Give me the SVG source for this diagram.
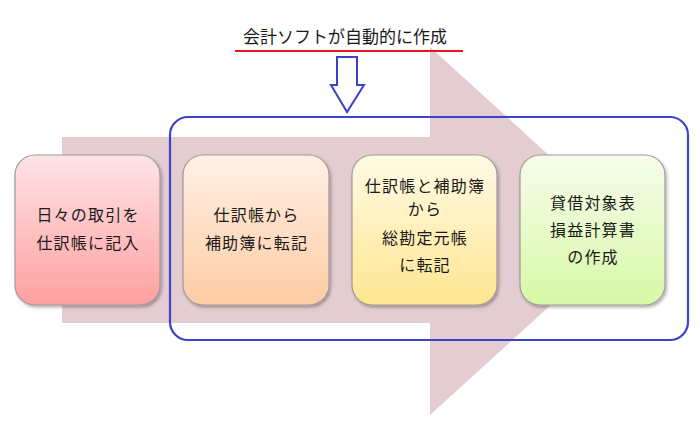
<svg xmlns="http://www.w3.org/2000/svg" width="700" height="425" viewBox="0 0 700 425">
<defs>
<style>
.t{font-family:"Noto Sans CJK JP","Noto Sans CJK SC",sans-serif;font-size:16px;fill:#1a1a1a;text-anchor:middle;letter-spacing:1.2px}
.n{stroke:#a09a9a;stroke-width:1.2}
</style>
<linearGradient id="g1" x1="0" y1="0" x2="0" y2="1"><stop offset="0" stop-color="#ffe3e6"/><stop offset="1" stop-color="#ffa0a0"/></linearGradient>
<linearGradient id="g2" x1="0" y1="0" x2="0" y2="1"><stop offset="0" stop-color="#fff0e6"/><stop offset="1" stop-color="#ffcca3"/></linearGradient>
<linearGradient id="g3" x1="0" y1="0" x2="0" y2="1"><stop offset="0" stop-color="#fffae6"/><stop offset="1" stop-color="#ffe68f"/></linearGradient>
<linearGradient id="g4" x1="0" y1="0" x2="0" y2="1"><stop offset="0" stop-color="#f6fdec"/><stop offset="1" stop-color="#d8f8a6"/></linearGradient>
<filter id="sh" x="-10%" y="-10%" width="125%" height="125%"><feDropShadow dx="1.5" dy="2" stdDeviation="1.5" flood-color="#000" flood-opacity="0.3"/></filter>
</defs>
<g id="bigArrow">
<polygon points="62,137 430,137 430,47 632,231 430,415 430,323 62,323" fill="#e4cdd0"/>
</g>
<g id="title">
<text class="t" x="345" y="43" style="font-size:17px;letter-spacing:0">会計ソフトが自動的に作成</text>
<line x1="235" y1="51" x2="463" y2="51" stroke="#e8141e" stroke-width="2.2"/>
</g>
<g id="connectors">
<polygon points="337,57 357,57 357,85 364,85 347,112 331,85 337,85" fill="#fff" stroke="#3b44c8" stroke-width="2"/>
</g>
<g id="group">
<rect x="170" y="117" width="518" height="223" rx="18" fill="none" stroke="#3b44c8" stroke-width="2.2"/>
</g>
<g id="n1">
<rect class="n" x="15" y="155" width="145" height="150" rx="20" fill="url(#g1)" filter="url(#sh)"/>
<text class="t" x="88" y="221">日々の取引を</text>
<text class="t" x="88" y="249">仕訳帳に記入</text>
</g>
<g id="n2">
<rect class="n" x="183" y="155" width="146" height="150" rx="20" fill="url(#g2)" filter="url(#sh)"/>
<text class="t" x="256.5" y="221">仕訳帳から</text>
<text class="t" x="256.5" y="249">補助簿に転記</text>
</g>
<g id="n3">
<rect class="n" x="352" y="155" width="145" height="150" rx="20" fill="url(#g3)" filter="url(#sh)"/>
<text class="t" x="425" y="192">仕訳帳と補助簿</text>
<text class="t" x="425" y="215">から</text>
<text class="t" x="425" y="244">総勘定元帳</text>
<text class="t" x="425" y="271">に転記</text>
</g>
<g id="n4">
<rect class="n" x="520" y="155" width="145" height="150" rx="20" fill="url(#g4)" filter="url(#sh)"/>
<text class="t" x="593" y="209">貸借対象表</text>
<text class="t" x="593" y="236">損益計算書</text>
<text class="t" x="593" y="263">の作成</text>
</g>
</svg>
